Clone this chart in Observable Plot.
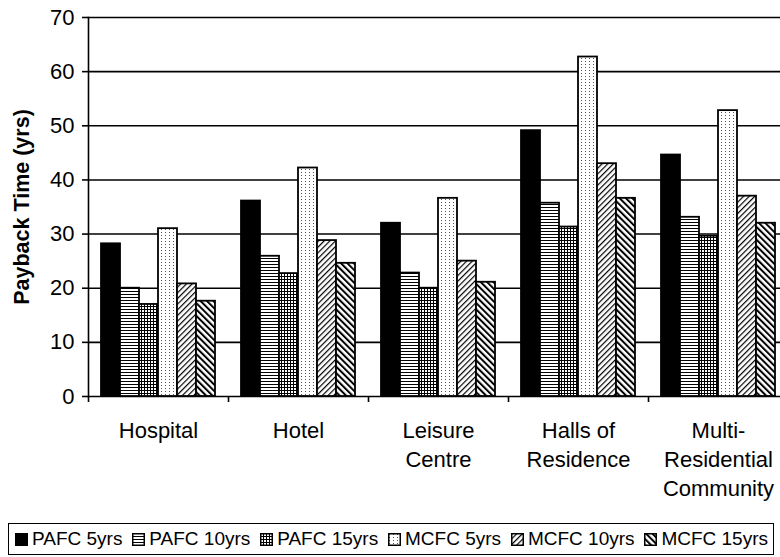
<!DOCTYPE html>
<html><head><meta charset="utf-8">
<script src="https://cdn.jsdelivr.net/npm/d3@7"></script>
<script src="https://cdn.jsdelivr.net/npm/@observablehq/plot@0.6"></script>
<style>
html,body{margin:0;padding:0;background:#fff;overflow:hidden;}
body{font-family:"Liberation Sans",Arial,sans-serif;width:780px;height:557px;position:relative;}
#chart{position:absolute;left:0;top:0;}
#legend{position:absolute;left:8px;top:523px;width:766px;height:32px;padding:0 5px 0 6px;border:1.5px solid #000;box-sizing:border-box;display:flex;align-items:center;justify-content:space-between;font-size:19px;white-space:nowrap;color:#000;}
.item{display:inline-flex;align-items:center;}
.item svg{margin-right:4px;}
</style></head><body>
<svg width="0" height="0" style="position:absolute"><defs>
<pattern id="pH" width="4" height="3" patternUnits="userSpaceOnUse"><rect width="4" height="3" fill="#fff"/><rect width="4" height="1" fill="#000"/></pattern>
<pattern id="pG" width="3" height="3" patternUnits="userSpaceOnUse"><rect width="3" height="3" fill="#fff"/><rect width="3" height="1" fill="#000"/><rect width="1" height="3" fill="#000"/></pattern>
<pattern id="pD" width="4" height="3" patternUnits="userSpaceOnUse"><rect width="4" height="3" fill="#fff"/><rect x="1" y="1" width="1" height="1" fill="#555"/></pattern>
<pattern id="pF" width="4" height="4" patternUnits="userSpaceOnUse" patternTransform="rotate(45)"><rect width="4" height="4" fill="#fff"/><rect width="1.2" height="4" fill="#000"/></pattern>
<pattern id="pB" width="4.5" height="4.5" patternUnits="userSpaceOnUse" patternTransform="rotate(-45)"><rect width="4.5" height="4.5" fill="#fff"/><rect width="2" height="4.5" fill="#000"/></pattern>
</defs></svg>
<div id="chart"></div>
<div id="legend"></div>
<script>
const groups = ["Hospital", "Hotel", "Leisure Centre", "Halls of Residence", "Multi-Residential Community"];
const groupLabels = ["Hospital", "Hotel", "Leisure\nCentre", "Halls of\nResidence", "Multi-\nResidential\nCommunity"];
const series = ["PAFC 5yrs", "PAFC 10yrs", "PAFC 15yrs", "MCFC 5yrs", "MCFC 10yrs", "MCFC 15yrs"];
const pafc5  = [28.2, 36.1, 32.0, 49.1, 44.6];
const pafc10 = [20.0, 25.9, 22.8, 35.7, 33.1];
const pafc15 = [17.0, 22.7, 20.0, 31.3, 29.6];
const mcfc5  = [31.0, 42.2, 36.6, 62.7, 52.8];
const mcfc10 = [20.8, 28.8, 25.0, 43.0, 37.0];
const mcfc15 = [17.6, 24.6, 21.1, 36.6, 32.0];
const yTicks = [0, 10, 20, 30, 40, 50, 60, 70];
const yLabel = "Payback Time (yrs)";
const fills = ["#000", "url(#pH)", "url(#pG)", "url(#pD)", "url(#pF)", "url(#pB)"];

const values = [pafc5, pafc10, pafc15, mcfc5, mcfc10, mcfc15];
const data = groups.flatMap((g, i) => series.map((s, j) => ({group: g, series: s, value: values[j][i]})));

const chart = Plot.plot({
  width: 788,
  height: 510,
  marginLeft: 88,
  marginRight: 0,
  marginTop: 17,
  marginBottom: 114,
  style: "max-width:none;font-family:'Liberation Sans',Arial,sans-serif;color:#000;background:transparent;",
  fx: {domain: groups, padding: 0, axis: null, label: null},
  x: {domain: series, paddingInner: 0, paddingOuter: 0.65, axis: null},
  y: {domain: [0, 70], axis: null},
  color: {domain: series, range: fills},
  marks: [
    Plot.gridY(yTicks, {stroke: "#000", strokeOpacity: 1, strokeWidth: 1.6}),
    Plot.barY(data, {fx: "group", x: "series", y: "value", fill: "series", stroke: "#000", strokeWidth: 1.8}),
    Plot.frame({anchor: "left", facetAnchor: "left", stroke: "#000", strokeWidth: 1.6}),
    Plot.axisY(yTicks, {anchor: "left", tickSize: 6, tickPadding: 8, fontSize: 22, label: null, stroke: "#000", strokeWidth: 1.6}),
    Plot.text([yLabel], {frameAnchor: "left", textAnchor: "middle", rotate: -90, dx: -66, fontSize: 21.5, fontWeight: "bold", facetAnchor: "left", fill: "#000"}),
    Plot.axisFx({anchor: "bottom", tickSize: 6, tickFormat: () => "", dx: -70, label: null, stroke: "#000", strokeWidth: 1.6}),
    Plot.axisFx({anchor: "bottom", tickSize: 0, tickPadding: 21, fontSize: 22, lineHeight: 1.32, label: null,
      tickFormat: d => groupLabels[groups.indexOf(d)]})
  ]
});
document.getElementById("chart").appendChild(chart);

const legend = document.getElementById("legend");
series.forEach((s, i) => {
  const item = document.createElement("span");
  item.className = "item";
  item.innerHTML = `<svg width="13" height="13"><rect x="0.75" y="0.75" width="11.5" height="11.5" fill="${fills[i]}" stroke="#000" stroke-width="1.5"/></svg>${s}`;
  legend.appendChild(item);
});
</script>
</body></html>
